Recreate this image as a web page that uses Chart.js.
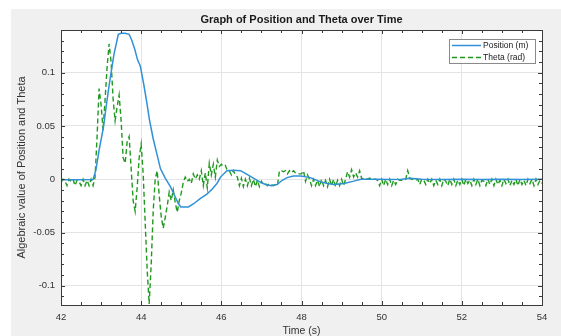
<!DOCTYPE html>
<html>
<head>
<meta charset="utf-8">
<script src="https://cdn.jsdelivr.net/npm/chart.js@4.4.0/dist/chart.umd.min.js"></script>
<style>
  html, body { margin: 0; padding: 0; background: #fff; }
</style>
</head>
<body>
<canvas id="myChart" width="561" height="336"></canvas>
<script>
const chartTitle = 'Graph of Position and Theta over Time';
const xTitle = 'Time (s)';
const yTitle = 'Algebraic value of Position and Theta';
const seriesNames = ['Position (m)', 'Theta (rad)'];
const xTicks = [42, 44, 46, 48, 50, 52, 54];
const yTicks = [-0.1, -0.05, 0, 0.05, 0.1];

// position
const posTime = [42.0, 42.4, 42.8, 42.87, 42.95, 43.06, 43.14, 43.22, 43.32, 43.43, 43.5, 43.6, 43.7, 43.77,
  43.84, 43.91, 43.98, 44.06, 44.14, 44.21, 44.3, 44.39, 44.48, 44.6, 44.73, 44.83, 44.93, 44.99, 45.1,
  45.18, 45.31, 45.48, 45.64, 45.78, 45.89, 45.98, 46.14, 46.3, 46.48, 46.62, 46.8, 46.98, 47.1, 47.25,
  47.39, 47.52, 47.64, 47.8, 47.98, 48.22, 48.48, 48.65, 48.81, 49.06, 49.28, 49.48, 49.7, 49.9, 50.2,
  50.5, 50.7, 51.0, 51.5, 52.0, 52.5, 53.0, 53.5, 54.0];
const posVals = [-0.0005, -0.0005, -0.0003, 0.0085, 0.027, 0.049, 0.072, 0.093, 0.117, 0.136, 0.137, 0.137, 0.136, 0.130,
  0.122, 0.112, 0.106, 0.090, 0.072, 0.055, 0.038, 0.024, 0.010, 0.001, -0.007, -0.015, -0.023, -0.026, -0.026,
  -0.026, -0.023, -0.018, -0.014, -0.009, -0.004, 0.002, 0.008, 0.0085, 0.008, 0.005, 0.001, -0.003, -0.005, -0.006,
  -0.005, -0.001, 0.0015, 0.003, 0.003, 0.0015, -0.0025, -0.004, -0.005, -0.004, -0.002, 0.000, 0.000, 0.000, -0.0003,
  0.000, 0.0008, 0.000, -0.0003, 0.000, -0.0003, 0.000, -0.0002, 0.000];

// theta, sampled every 0.05 s from 42 s
const thetaStart = 42, thetaStep = 0.05;
const thetaVals = [
  -0.003, 0.000, -0.002, -0.006, 0.000, -0.002, 0.000, -0.006, -0.001, -0.002, -0.006, 0.000, -0.006, -0.001, -0.006, 0.000, -0.006,
  0.002, 0.040, 0.085, 0.070, 0.046, 0.075, 0.105, 0.127, 0.110, 0.075, 0.055, 0.068, 0.079, 0.055, 0.020, 0.015, 0.035, 0.040, 0.010, -0.020,
  -0.030, -0.008, 0.020, 0.033, 0.005, -0.040, -0.085, -0.117, -0.080, -0.030, 0.000, 0.008, -0.015, -0.035, -0.046, -0.036, -0.025, -0.012, -0.020, -0.010,
  -0.022, -0.031, -0.020, -0.013, -0.003, 0.002, -0.002, 0.000, -0.004, 0.005, 0.000, 0.004, 0.000, 0.008, -0.006, 0.006, -0.008, 0.015, 0.004, 0.014,
  0.002, 0.018, 0.012, 0.014, 0.012, 0.013, 0.008, 0.008, 0.004, 0.008, 0.004, 0.002, -0.006, 0.001, -0.007, 0.000, -0.006, 0.001, -0.006, 0.000,
  -0.007, -0.001, -0.007, -0.002, -0.005, -0.004, -0.006, -0.004, -0.005, -0.006, -0.005, -0.006, 0.008, 0.008, 0.007, 0.008, 0.005, 0.008, 0.006, 0.008,
  0.006, 0.005, 0.005, 0.005, 0.008, -0.002, 0.004, 0.000, -0.006, 0.000, -0.006, -0.001, -0.007, 0.000, -0.006, -0.001, -0.007, 0.000, -0.006, 0.000,
  -0.007, -0.001, -0.006, 0.000, -0.006, 0.000, 0.007, 0.002, 0.009, 0.002, 0.006, 0.002, 0.008, 0.001, 0.000, 0.001, 0.000, 0.001, 0.000, 0.000,
  0.000, -0.001, -0.006, 0.000, -0.006, 0.000, -0.005, 0.000, -0.006, -0.001, -0.005, 0.000, -0.001, -0.001, 0.000, 0.000, 0.008, 0.001, 0.000, 0.000,
  -0.001, 0.000, -0.005, 0.000, -0.001, -0.005, 0.000, -0.004, 0.000, -0.006, -0.001, -0.005, 0.000, -0.006, 0.000, -0.002, -0.006, 0.000, -0.005, 0.000,
  -0.006, -0.001, -0.005, 0.000, -0.006, 0.000, -0.004, -0.001, -0.006, 0.000, -0.005, 0.000, -0.006, -0.001, -0.002, -0.006, 0.000, -0.005, 0.000, -0.006,
  0.000, -0.005, -0.001, -0.006, 0.000, -0.004, 0.000, -0.006, -0.001, -0.005, 0.000, -0.006, 0.000, -0.005, -0.001, -0.006, 0.000, -0.004, 0.000, -0.006,
  0.000, -0.005, -0.001, -0.004
];

const fontFamily = '"Liberation Sans", Arial, Helvetica, sans-serif';
const textColor = '#333333';
const blue = '#3090d8';
const green = '#1f9a1f';

// figure background, axes box with inward ticks, title and legend drawn like MATLAB
const matlabFrame = {
  id: 'matlabFrame',
  beforeDraw(chart) {
    const c = chart.ctx, a = chart.chartArea;
    c.save();
    c.fillStyle = '#f0f0f0';
    c.fillRect(11, 9, chart.width - 11, chart.height - 9);
    c.fillStyle = '#ffffff';
    c.fillRect(a.left, a.top, a.right - a.left, a.bottom - a.top);
    c.restore();
  },
  afterDraw(chart) {
    const c = chart.ctx, a = chart.chartArea;
    const xs = chart.scales.x, ys = chart.scales.y;
    c.save();
    c.strokeStyle = '#3a3a3a';
    c.lineWidth = 1;
    c.beginPath();
    for (let k = 84; k <= 108; k++) {
      const px = Math.round(xs.getPixelForValue(k / 2)) + 0.5;
      const len = k % 4 === 0 ? 4 : 3;
      c.moveTo(px, a.bottom); c.lineTo(px, a.bottom - len);
      c.moveTo(px, a.top); c.lineTo(px, a.top + len);
    }
    for (let k = -11; k <= 14; k++) {
      const py = Math.round(ys.getPixelForValue(k / 100)) + 0.5;
      const len = k % 5 === 0 ? 4 : 3;
      c.moveTo(a.left, py); c.lineTo(a.left + len, py);
      c.moveTo(a.right, py); c.lineTo(a.right - len, py);
    }
    c.stroke();
    c.strokeRect(Math.round(a.left) + 0.5, Math.round(a.top) + 0.5,
      Math.round(a.right - a.left), Math.round(a.bottom - a.top));

    // title
    c.fillStyle = '#1a1a1a';
    c.font = 'bold 11px ' + fontFamily;
    c.textAlign = 'center';
    c.textBaseline = 'middle';
    c.fillText(chartTitle, (a.left + a.right) / 2, 20);

    // legend
    const lw = 86, lh = 24;
    const lx = Math.round(a.right) - 7 - lw, ly = Math.round(a.top) + 9;
    c.fillStyle = '#ffffff';
    c.fillRect(lx, ly, lw, lh);
    c.strokeStyle = '#8a8a8a';
    c.strokeRect(lx + 0.5, ly + 0.5, lw, lh);
    c.font = '8.5px ' + fontFamily;
    c.textAlign = 'left';
    chart.data.datasets.forEach((ds, i) => {
      const y = ly + 6.5 + i * 12;
      c.strokeStyle = ds.borderColor;
      c.lineWidth = ds.borderWidth;
      c.setLineDash(ds.borderDash || []);
      c.beginPath();
      c.moveTo(lx + 3, y); c.lineTo(lx + 32, y);
      c.stroke();
      c.setLineDash([]);
      c.fillStyle = '#1a1a1a';
      c.fillText(ds.label, lx + 34, y);
    });
    c.restore();
  }
};

const ctx = document.getElementById('myChart');
new Chart(ctx, {
  type: 'line',
  data: {
    datasets: [
      {
        label: seriesNames[0],
        data: posTime.map((t, i) => ({ x: t, y: posVals[i] })),
        borderColor: blue,
        borderWidth: 1.5,
        pointRadius: 0,
        tension: 0,
        fill: false
      },
      {
        label: seriesNames[1],
        data: thetaVals.map((v, i) => ({ x: thetaStart + i * thetaStep, y: v })),
        borderColor: green,
        borderWidth: 1.4,
        borderDash: [5, 3],
        pointRadius: 0,
        tension: 0,
        fill: false
      }
    ]
  },
  options: {
    responsive: false,
    animation: false,
    layout: { padding: { top: 30, right: 19, left: 0, bottom: 0 } },
    plugins: {
      legend: { display: false },
      tooltip: { enabled: false }
    },
    scales: {
      x: {
        type: 'linear',
        min: 42,
        max: 54,
        afterBuildTicks: s => { s.ticks = xTicks.map(v => ({ value: v })); },
        afterFit: s => { s.height = 31; },
        border: { display: false },
        grid: { color: '#e4e4e4', drawTicks: false },
        ticks: {
          autoSkip: false, maxRotation: 0, padding: 7,
          color: textColor, font: { size: 9.5, family: fontFamily },
          callback: v => String(v)
        },
        title: {
          display: true, text: xTitle, color: textColor,
          font: { size: 10.5, family: fontFamily, lineHeight: 1 },
          padding: { top: 1, bottom: 0 }
        }
      },
      y: {
        min: -0.118,
        max: 0.14,
        afterBuildTicks: s => { s.ticks = yTicks.map(v => ({ value: v })); },
        afterFit: s => { s.width = 61; },
        border: { display: false },
        grid: { color: '#e4e4e4', drawTicks: false },
        ticks: {
          autoSkip: false, padding: 6,
          color: textColor, font: { size: 9.5, family: fontFamily },
          callback: v => String(v)
        },
        title: {
          display: true, text: yTitle, color: textColor,
          font: { size: 11, family: fontFamily, lineHeight: 1.2 },
          padding: { top: 15, bottom: 0 }
        }
      }
    }
  },
  plugins: [matlabFrame]
});
</script>
</body>
</html>
